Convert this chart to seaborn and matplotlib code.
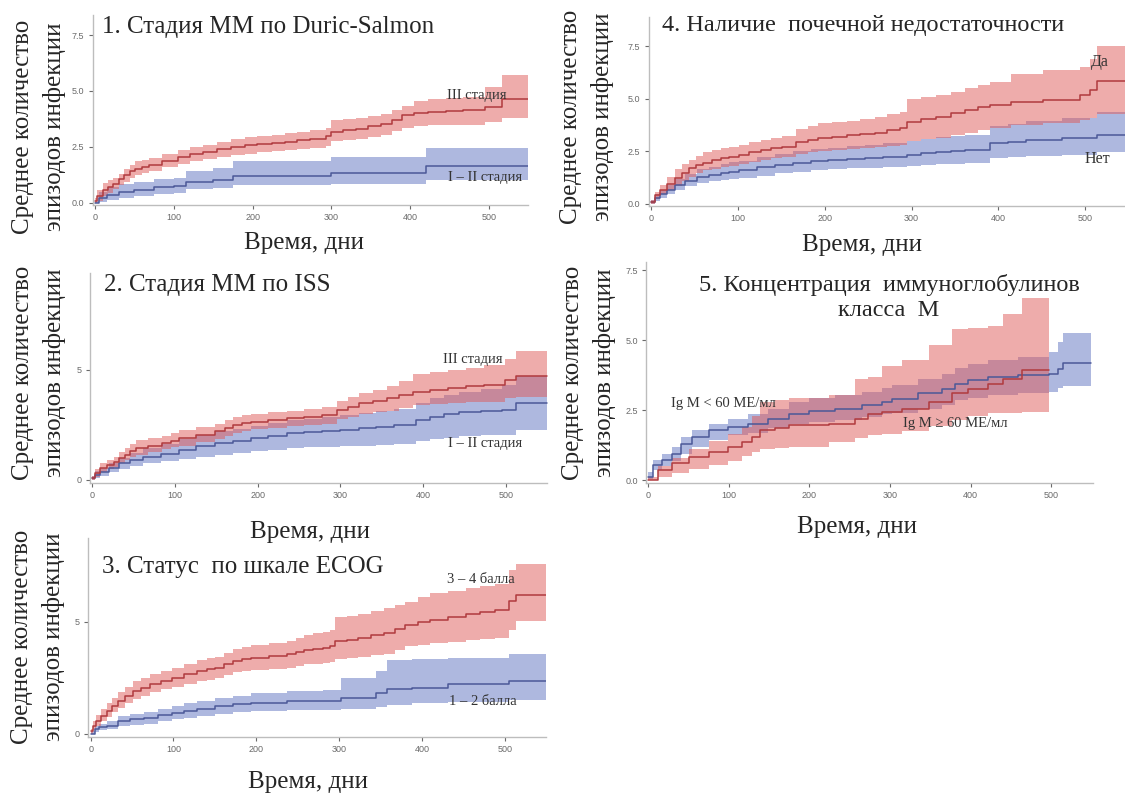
import numpy as np
import matplotlib
matplotlib.use('Agg')
import matplotlib.pyplot as plt
import seaborn as sns

# --- данные ---
# 1. Стадия ММ по Durie-Salmon
p1_red_t = [0, 3, 10, 16, 23, 30, 37, 44, 51, 60, 69, 85, 105, 120, 137, 155, 173, 190, 205, 225, 241, 257, 273, 293, 300, 315, 331, 347, 363, 377, 390, 405, 422, 445, 467, 495, 517, 550]
p1_red_mean = [0.1, 0.3, 0.57, 0.72, 0.86, 1.05, 1.24, 1.4, 1.53, 1.62, 1.68, 1.88, 2.05, 2.17, 2.28, 2.4, 2.5, 2.58, 2.65, 2.68, 2.72, 2.8, 2.87, 2.98, 3.17, 3.25, 3.32, 3.42, 3.54, 3.72, 3.91, 4.0, 4.06, 4.1, 4.14, 4.3, 4.66, 4.66]
p1_red_hi = [0.2, 0.55, 0.9, 1.0, 1.1, 1.3, 1.5, 1.68, 1.85, 1.93, 2.0, 2.18, 2.35, 2.48, 2.6, 2.73, 2.85, 2.93, 3.0, 3.05, 3.1, 3.18, 3.25, 3.35, 3.7, 3.75, 3.8, 3.88, 3.95, 4.15, 4.35, 4.55, 4.65, 4.7, 4.75, 5.2, 5.7, 5.7]
p1_red_lo = [0.0, 0.1, 0.3, 0.45, 0.6, 0.78, 0.95, 1.1, 1.25, 1.33, 1.4, 1.58, 1.75, 1.85, 1.95, 2.05, 2.15, 2.2, 2.25, 2.3, 2.35, 2.4, 2.45, 2.55, 2.75, 2.8, 2.85, 2.95, 3.05, 3.2, 3.35, 3.45, 3.5, 3.5, 3.5, 3.6, 3.8, 3.8]
p1_blue_t = [0, 5, 15, 30, 50, 75, 100, 115, 150, 175, 300, 420, 550]
p1_blue_mean = [0.0, 0.2, 0.35, 0.5, 0.55, 0.7, 0.75, 0.95, 1.0, 1.2, 1.35, 1.65, 1.65]
p1_blue_hi = [0.1, 0.5, 0.7, 0.85, 0.95, 1.05, 1.1, 1.4, 1.55, 1.85, 2.05, 2.45, 2.45]
p1_blue_lo = [0.0, 0.05, 0.12, 0.2, 0.3, 0.4, 0.45, 0.6, 0.65, 0.8, 0.85, 1.0, 1.0]

# 2. Стадия ММ по ISS
p2_red_t = [0, 4, 10, 18, 27, 33, 40, 46, 53, 68, 84, 95, 105, 126, 148, 160, 170, 181, 192, 213, 235, 256, 278, 296, 309, 322, 339, 356, 371, 387, 408, 430, 451, 473, 499, 512, 550]
p2_red_mean = [0.1, 0.3, 0.53, 0.7, 0.83, 0.98, 1.14, 1.3, 1.44, 1.56, 1.67, 1.78, 1.89, 2.05, 2.2, 2.35, 2.5, 2.58, 2.65, 2.72, 2.8, 2.88, 2.95, 3.18, 3.33, 3.48, 3.6, 3.7, 3.85, 4.0, 4.08, 4.17, 4.25, 4.32, 4.55, 4.73, 4.73]
p2_red_hi = [0.2, 0.5, 0.75, 0.92, 1.05, 1.25, 1.45, 1.63, 1.8, 1.9, 2.0, 2.12, 2.25, 2.4, 2.55, 2.7, 2.85, 2.93, 3.0, 3.08, 3.15, 3.22, 3.3, 3.6, 3.78, 3.95, 4.1, 4.25, 4.5, 4.8, 4.9, 5.0, 5.1, 5.2, 5.5, 5.85, 5.85]
p2_red_lo = [0.0, 0.15, 0.35, 0.48, 0.6, 0.75, 0.9, 1.03, 1.15, 1.28, 1.4, 1.48, 1.55, 1.7, 1.85, 2.0, 2.15, 2.22, 2.3, 2.38, 2.45, 2.5, 2.55, 2.75, 2.88, 3.0, 3.08, 3.15, 3.28, 3.4, 3.45, 3.5, 3.52, 3.55, 3.7, 3.75, 3.75]
p2_blue_t = [0, 4, 10, 20, 32, 46, 62, 83, 105, 126, 148, 170, 192, 213, 235, 256, 278, 300, 322, 343, 365, 391, 408, 425, 443, 470, 495, 512, 550]
p2_blue_mean = [0.1, 0.22, 0.35, 0.55, 0.76, 0.92, 1.06, 1.2, 1.36, 1.52, 1.67, 1.78, 1.89, 2.0, 2.12, 2.16, 2.2, 2.28, 2.35, 2.42, 2.5, 2.73, 2.88, 3.0, 3.1, 3.14, 3.18, 3.48, 3.48]
p2_blue_hi = [0.2, 0.4, 0.55, 0.78, 1.0, 1.22, 1.45, 1.65, 1.85, 2.03, 2.2, 2.33, 2.45, 2.58, 2.7, 2.78, 2.85, 2.95, 3.05, 3.12, 3.2, 3.5, 3.7, 3.85, 4.0, 4.15, 4.3, 4.7, 4.7]
p2_blue_lo = [0.0, 0.1, 0.2, 0.35, 0.5, 0.63, 0.75, 0.85, 0.95, 1.05, 1.15, 1.22, 1.3, 1.38, 1.45, 1.48, 1.5, 1.52, 1.55, 1.6, 1.65, 1.75, 1.85, 1.92, 2.0, 2.03, 2.05, 2.25, 2.25]

# 3. Статус по шкале ECOG
p3_red_t = [0, 3, 7, 13, 20, 26, 33, 42, 51, 61, 72, 85, 98, 113, 129, 140, 150, 161, 172, 183, 194, 215, 237, 248, 258, 269, 280, 289, 295, 309, 323, 338, 354, 367, 380, 395, 410, 431, 453, 470, 488, 505, 514, 550]
p3_red_mean = [0.1, 0.35, 0.57, 0.8, 1.01, 1.23, 1.46, 1.7, 1.9, 2.05, 2.2, 2.35, 2.5, 2.65, 2.8, 2.88, 2.95, 3.1, 3.24, 3.32, 3.39, 3.46, 3.54, 3.65, 3.76, 3.8, 3.84, 3.9, 4.14, 4.2, 4.29, 4.4, 4.51, 4.7, 4.88, 5.0, 5.1, 5.22, 5.33, 5.44, 5.55, 5.92, 6.22, 6.22]
p3_red_hi = [0.2, 0.55, 0.85, 1.1, 1.35, 1.6, 1.85, 2.1, 2.35, 2.5, 2.65, 2.8, 2.95, 3.12, 3.3, 3.38, 3.45, 3.62, 3.8, 3.88, 3.95, 4.05, 4.15, 4.28, 4.4, 4.48, 4.55, 4.65, 5.2, 5.28, 5.35, 5.48, 5.6, 5.75, 5.9, 6.1, 6.3, 6.4, 6.5, 6.6, 6.7, 7.3, 7.6, 7.6]
p3_red_lo = [0.0, 0.15, 0.35, 0.55, 0.75, 0.95, 1.15, 1.35, 1.55, 1.7, 1.85, 1.98, 2.1, 2.22, 2.35, 2.42, 2.5, 2.62, 2.75, 2.8, 2.85, 2.9, 2.95, 3.02, 3.1, 3.12, 3.15, 3.2, 3.35, 3.4, 3.45, 3.5, 3.55, 3.72, 3.9, 3.98, 4.05, 4.12, 4.2, 4.25, 4.3, 4.65, 5.05, 5.05]
p3_blue_t = [0, 5, 10, 20, 33, 48, 64, 81, 98, 113, 129, 150, 172, 194, 237, 280, 302, 345, 358, 388, 432, 505, 550]
p3_blue_mean = [0.0, 0.2, 0.3, 0.34, 0.57, 0.65, 0.71, 0.83, 0.94, 1.02, 1.09, 1.24, 1.31, 1.38, 1.46, 1.46, 1.61, 1.83, 1.98, 2.05, 2.2, 2.35, 2.35]
p3_blue_hi = [0.1, 0.35, 0.45, 0.55, 0.8, 0.88, 0.95, 1.1, 1.25, 1.35, 1.45, 1.6, 1.7, 1.8, 1.9, 1.95, 2.5, 2.8, 3.3, 3.35, 3.4, 3.55, 3.55]
p3_blue_lo = [0.0, 0.08, 0.15, 0.2, 0.35, 0.4, 0.45, 0.55, 0.65, 0.72, 0.8, 0.9, 0.95, 1.0, 1.05, 1.05, 1.1, 1.2, 1.3, 1.35, 1.4, 1.5, 1.5]

# 4. Наличие почечной недостаточности
p4_red_t = [0, 4, 10, 18, 27, 35, 43, 51, 60, 70, 80, 90, 101, 113, 126, 138, 151, 167, 180, 192, 208, 225, 241, 258, 272, 287, 295, 311, 328, 345, 362, 376, 390, 415, 452, 494, 506, 514, 550]
p4_red_mean = [0.1, 0.4, 0.67, 0.95, 1.22, 1.47, 1.7, 1.85, 1.97, 2.08, 2.17, 2.25, 2.33, 2.45, 2.57, 2.65, 2.73, 2.97, 3.05, 3.13, 3.2, 3.29, 3.34, 3.4, 3.5, 3.6, 3.92, 4.04, 4.16, 4.32, 4.48, 4.6, 4.71, 4.87, 4.95, 5.19, 5.43, 5.83, 5.83]
p4_red_hi = [0.2, 0.55, 0.9, 1.28, 1.65, 1.88, 2.1, 2.28, 2.45, 2.55, 2.65, 2.72, 2.8, 2.93, 3.05, 3.15, 3.25, 3.55, 3.7, 3.85, 3.9, 3.95, 4.05, 4.15, 4.28, 4.4, 5.0, 5.1, 5.2, 5.35, 5.5, 5.65, 5.8, 6.2, 6.4, 6.5, 6.9, 7.5, 7.5]
p4_red_lo = [0.0, 0.25, 0.45, 0.65, 0.85, 1.08, 1.3, 1.45, 1.6, 1.68, 1.75, 1.82, 1.9, 2.0, 2.1, 2.18, 2.25, 2.4, 2.45, 2.5, 2.55, 2.6, 2.65, 2.7, 2.75, 2.8, 3.0, 3.08, 3.15, 3.28, 3.4, 3.5, 3.6, 3.75, 3.85, 4.0, 4.1, 4.3, 4.3]
p4_blue_t = [0, 4, 10, 18, 27, 39, 52, 66, 80, 90, 101, 122, 143, 163, 184, 204, 225, 246, 267, 295, 311, 328, 345, 362, 390, 411, 432, 473, 514, 550]
p4_blue_mean = [0.1, 0.3, 0.45, 0.68, 0.9, 1.1, 1.3, 1.38, 1.46, 1.54, 1.62, 1.74, 1.86, 1.94, 2.02, 2.08, 2.13, 2.19, 2.25, 2.33, 2.41, 2.49, 2.53, 2.57, 2.89, 2.97, 3.05, 3.13, 3.29, 3.29]
p4_blue_hi = [0.2, 0.45, 0.65, 0.92, 1.2, 1.43, 1.65, 1.78, 1.9, 1.98, 2.05, 2.22, 2.4, 2.5, 2.6, 2.68, 2.75, 2.82, 2.9, 3.0, 3.1, 3.2, 3.25, 3.3, 3.7, 3.82, 3.95, 4.1, 4.4, 4.4]
p4_blue_lo = [0.0, 0.15, 0.3, 0.48, 0.65, 0.83, 1.0, 1.08, 1.15, 1.2, 1.25, 1.35, 1.45, 1.52, 1.6, 1.65, 1.7, 1.72, 1.75, 1.8, 1.85, 1.9, 1.92, 1.95, 2.2, 2.25, 2.3, 2.35, 2.45, 2.45]

# 5. Концентрация иммуноглобулинов класса M
p5_blue_t = [0, 6, 17, 29, 41, 54, 75, 99, 124, 149, 174, 199, 232, 265, 290, 302, 335, 364, 381, 397, 422, 459, 497, 509, 515, 550]
p5_blue_mean = [0.12, 0.54, 0.71, 0.95, 1.31, 1.55, 1.79, 1.9, 2.02, 2.17, 2.38, 2.46, 2.56, 2.68, 2.8, 2.92, 3.1, 3.27, 3.45, 3.57, 3.69, 3.75, 3.81, 3.99, 4.2, 4.2]
p5_blue_hi = [0.3, 0.71, 0.95, 1.2, 1.55, 1.79, 2.02, 2.2, 2.35, 2.55, 2.8, 2.95, 3.05, 3.15, 3.3, 3.4, 3.6, 3.8, 4.0, 4.15, 4.3, 4.4, 4.6, 4.95, 5.25, 5.25]
p5_blue_lo = [0.05, 0.35, 0.5, 0.7, 0.95, 1.2, 1.45, 1.6, 1.7, 1.85, 2.0, 2.08, 2.15, 2.25, 2.35, 2.4, 2.55, 2.7, 2.85, 2.95, 3.05, 3.1, 3.15, 3.3, 3.35, 3.35]
p5_red_t = [0, 12, 29, 50, 75, 99, 116, 128, 139, 157, 174, 224, 257, 273, 290, 315, 348, 377, 397, 422, 440, 464, 497]
p5_red_mean = [0.0, 0.36, 0.6, 0.83, 1.01, 1.19, 1.37, 1.55, 1.79, 1.88, 1.96, 2.02, 2.2, 2.38, 2.45, 2.56, 2.8, 3.1, 3.27, 3.45, 3.6, 3.93, 3.93]
p5_red_hi = [0.1, 0.5, 0.8, 1.1, 1.4, 1.65, 1.9, 2.3, 2.8, 2.85, 2.95, 3.05, 3.6, 3.7, 4.1, 4.3, 4.85, 5.4, 5.45, 5.5, 5.95, 6.5, 6.5]
p5_red_lo = [0.0, 0.1, 0.25, 0.4, 0.55, 0.7, 0.85, 1.0, 1.1, 1.15, 1.2, 1.35, 1.5, 1.6, 1.65, 1.75, 1.95, 2.15, 2.3, 2.4, 2.42, 2.45, 2.45]

titles = ['1. Стадия ММ по Duric-Salmon', '2. Стадия ММ по ISS', '3. Статус  по шкале ECOG',
          '4. Наличие  почечной недостаточности', '5. Концентрация  иммуноглобулинов\nкласса  М']
yticks = [[0, 2.5, 5, 7.5], [0, 5], [0, 5], [0, 2.5, 5, 7.5], [0, 2.5, 5, 7.5]]
yticklabels = [['0.0', '2.5', '5.0', '7.5'], ['0', '5'], ['0', '5'],
               ['0.0', '2.5', '5.0', '7.5'], ['0.0', '2.5', '5.0', '7.5']]
xticks = [0, 100, 200, 300, 400, 500]

RED_LINE = '#b03a3e'
RED_FILL = '#df5a58'
BLUE_LINE = '#4b5898'
BLUE_FILL = '#5e72c0'
SERIF = ['Liberation Serif', 'DejaVu Serif']

sns.set_theme(style='ticks')
plt.rcParams['font.family'] = ['Liberation Sans', 'DejaVu Sans']

fig = plt.figure(figsize=(11.25, 7.93), dpi=100)
W, H = 1125.0, 793.0


def px_axes(left, right, top, bottom):
    return fig.add_axes([left / W, 1 - bottom / H, (right - left) / W, (bottom - top) / H])


# положение осей в пикселях (лево, право, верх, низ)
ax1 = px_axes(92.6, 528.4, 15, 205)
ax2 = px_axes(89.6, 547.5, 273, 483)
ax3 = px_axes(88.2, 546.1, 538, 737)
ax4 = px_axes(648.8, 1125, 17, 206)
ax5 = px_axes(646, 1093, 262, 483)
axes = [ax1, ax2, ax3, ax4, ax5]
ylims = [(-0.1, 8.4), (-0.14, 9.4), (-0.15, 8.75), (-0.1, 8.9), (-0.1, 7.8)]
xlims = [(-3, 550), (-3, 550), (-3, 550), (-3, 546), (-3, 552)]


def draw_group(ax, t, mean, lo, hi, line_c, fill_c):
    ax.fill_between(t, lo, hi, step='post', color=fill_c, alpha=0.5, lw=0)
    sns.lineplot(x=t, y=mean, drawstyle='steps-post', color=line_c, lw=1.1, ax=ax)


draw_group(ax1, p1_blue_t, p1_blue_mean, p1_blue_lo, p1_blue_hi, BLUE_LINE, BLUE_FILL)
draw_group(ax1, p1_red_t, p1_red_mean, p1_red_lo, p1_red_hi, RED_LINE, RED_FILL)
draw_group(ax2, p2_blue_t, p2_blue_mean, p2_blue_lo, p2_blue_hi, BLUE_LINE, BLUE_FILL)
draw_group(ax2, p2_red_t, p2_red_mean, p2_red_lo, p2_red_hi, RED_LINE, RED_FILL)
draw_group(ax3, p3_blue_t, p3_blue_mean, p3_blue_lo, p3_blue_hi, BLUE_LINE, BLUE_FILL)
draw_group(ax3, p3_red_t, p3_red_mean, p3_red_lo, p3_red_hi, RED_LINE, RED_FILL)
draw_group(ax4, p4_blue_t, p4_blue_mean, p4_blue_lo, p4_blue_hi, BLUE_LINE, BLUE_FILL)
draw_group(ax4, p4_red_t, p4_red_mean, p4_red_lo, p4_red_hi, RED_LINE, RED_FILL)
draw_group(ax5, p5_blue_t, p5_blue_mean, p5_blue_lo, p5_blue_hi, BLUE_LINE, BLUE_FILL)
draw_group(ax5, p5_red_t, p5_red_mean, p5_red_lo, p5_red_hi, RED_LINE, RED_FILL)

for i, ax in enumerate(axes):
    ax.set_xlim(*xlims[i])
    ax.set_ylim(*ylims[i])
    ax.set_xticks(xticks)
    ax.set_yticks(yticks[i])
    ax.set_yticklabels(yticklabels[i])
    ax.set_xlabel('')
    ax.set_ylabel('')
    sns.despine(ax=ax)
    for s in ['left', 'bottom']:
        ax.spines[s].set_color('#bdbdbd')
        ax.spines[s].set_linewidth(1.0)
    ax.tick_params(labelsize=6.5, colors='#6a6a6a', length=3, width=0.8, pad=3)
    ax.set_facecolor('none')

# подписи кривых
lab = dict(family=SERIF, fontsize=10.5, color='#333333', ha='center', va='center')
ax1.text(485, 4.8, 'III стадия', **lab)
ax1.text(495, 1.15, 'I – II стадия', **lab)
ax2.text(460, 5.45, 'III стадия', **lab)
ax2.text(475, 1.64, 'I – II стадия', **lab)
ax3.text(471, 6.9, '3 – 4 балла', **lab)
ax3.text(473, 1.43, '1 – 2 балла', **lab)
ax4.text(517, 6.75, 'Да', family=SERIF, fontsize=11.5, color='#333333', ha='center', va='center')
ax4.text(514, 2.14, 'Нет', family=SERIF, fontsize=11.5, color='#333333', ha='center', va='center')
ax5.text(93, 2.75, 'Ig M < 60 МЕ/мл', **lab)
ax5.text(381, 2.03, 'Ig M ≥ 60 МЕ/мл', **lab)

# заголовки панелей
fig.text(102 / W, 1 - 27 / H, titles[0], family=SERIF, fontsize=18, ha='left', va='center')
fig.text(104 / W, 1 - 285 / H, titles[1], family=SERIF, fontsize=18, ha='left', va='center')
fig.text(102 / W, 1 - 567 / H, titles[2], family=SERIF, fontsize=18, ha='left', va='center')
fig.text(662 / W, 1 - 25 / H, titles[3], family=SERIF, fontsize=17.5, ha='left', va='center')
fig.text(889 / W, 1 - 297 / H, titles[4], family=SERIF, fontsize=17.5, ha='center', va='center',
         linespacing=1.25)

# оси X
for x, y in [(304, 243), (862, 245), (310, 532), (308, 782), (857, 527)]:
    fig.text(x / W, 1 - y / H, 'Время, дни', family=SERIF, fontsize=18, ha='center', va='center')

# оси Y
for x, y in [(39, 127), (587, 117), (39, 373), (38, 637), (589, 373)]:
    fig.text(x / W, 1 - y / H, 'Среднее количество\nэпизодов инфекции', family=SERIF, fontsize=18,
             rotation=90, ha='center', va='center', linespacing=1.5)

fig.savefig('out.png', dpi=100)
